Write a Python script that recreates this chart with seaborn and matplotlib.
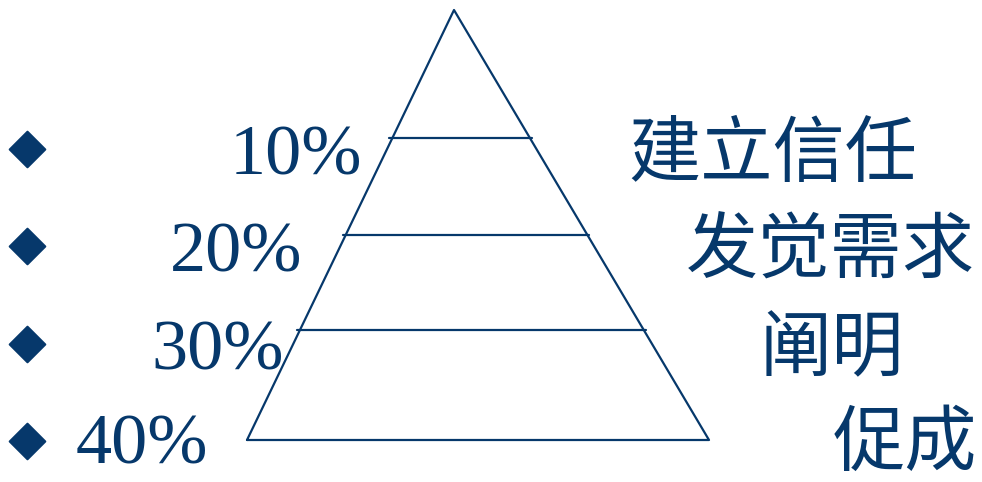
import matplotlib
matplotlib.use("Agg")
import matplotlib.pyplot as plt
import seaborn as sns
import pandas as pd

# ---- data ----
shares = ["10%", "20%", "30%", "40%"]
stages = ["建立信任", "发觉需求", "阐明", "促成"]

# ---- layout (pixel geometry of the diagram) ----
row_y = [153, 250, 348, 442]           # text row centres
share_x = [230, 170, 151, 76]          # left edge of percentage labels
stage_x = [628, 686, 760, 833]         # left edge of stage labels
bullet_x = 27
apex = (454, 10)
base_l = (247, 440)
base_r = (709, 440)
divider_y = [138, 235, 330]

color = "#06386b"

sns.set_theme(style="white")
plt.rcParams['font.family'] = ['Liberation Serif', 'Noto Sans CJK SC', 'DejaVu Sans']

fig = plt.figure(figsize=(9.82, 4.82), dpi=100)
ax = fig.add_axes([0, 0, 1, 1])
ax.set_xlim(0, 982)
ax.set_ylim(482, 0)
ax.axis("off")

# triangle outline
tri = pd.DataFrame({"x": [base_l[0], apex[0], base_r[0], base_l[0]],
                    "y": [base_l[1], apex[1], base_r[1], base_l[1]]})
sns.lineplot(data=tri, x="x", y="y", sort=False, ax=ax, color=color, lw=1.6,
             estimator=None)

# dividers spanning the triangle
def edge_x(y, p0, p1):
    return p0[0] + (y - p0[1]) / (p1[1] - p0[1]) * (p1[0] - p0[0])

for y in divider_y:
    xl = edge_x(y, apex, base_l) - 3
    xr = edge_x(y, apex, base_r) + 2
    ax.plot([xl, xr], [y, y], color=color, lw=1.6)

# bullets
bul = pd.DataFrame({"x": [bullet_x] * len(shares), "y": [149, 246, 344, 441]})
sns.scatterplot(data=bul, x="x", y="y", marker="D", s=330, color=color,
                edgecolor=color, ax=ax, legend=False)

for s, st, y, sx, tx in zip(shares, stages, row_y, share_x, stage_x):
    ax.text(sx, y + 4, s, fontsize=52, color=color, ha="left", va="center",
            family=['Liberation Serif'])
    ax.text(tx, y + 2, st, fontsize=52, color=color, ha="left", va="center",
            family=['Noto Sans CJK SC'])

ax.set_xlabel("")
ax.set_ylabel("")
fig.savefig("out.png", dpi=100)
